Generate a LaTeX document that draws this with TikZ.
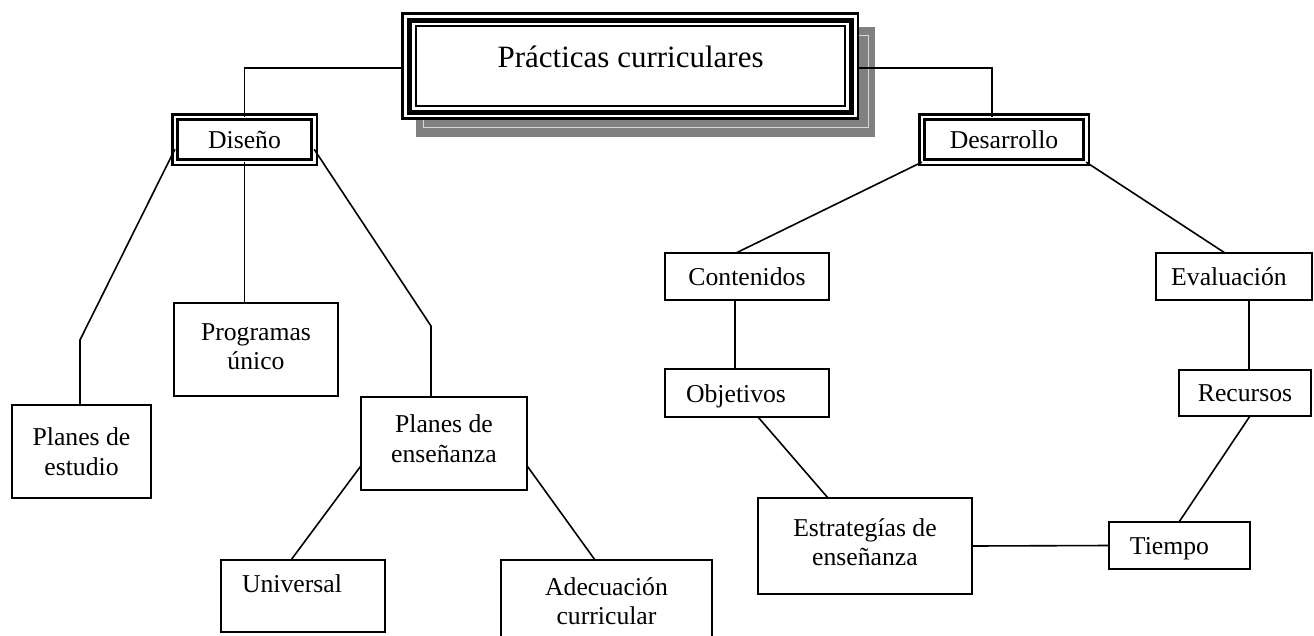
\documentclass[tikz,border=0pt]{standalone}
\usepackage{fontspec}
\setmainfont{Liberation Serif}
\definecolor{shadowgray}{HTML}{808080}
\definecolor{lightline}{HTML}{D8D8D8}
\begin{document}
\begin{tikzpicture}[x=1pt,y=-1pt,
  every node/.style={font=\fontsize{25.7}{29.5}\selectfont, inner sep=0pt, outer sep=0pt, align=center},
  tbox/.style={draw, line width=2, fill=white},
  dbox/.style={draw, line width=2.5, double, double distance=2.7},
  conn/.style={line width=1.6}]
\useasboundingbox (0,0) rectangle (1314,635);
\clip (0,0) rectangle (1314,635);
% title with shadow
\fill[shadowgray] (416,27) rectangle (875,137);
\draw[line width=1, lightline] (423,35) rectangle (868,127);
\node[draw, line width=2.6, fill=white, minimum width=455.6, minimum height=105.1] (titleout) at (630,66.15) {};
\node[draw, line width=5.5, minimum width=442, minimum height=92] (titlemid) at (630.5,66.5) {};
\node[draw, line width=2.3, minimum width=428.7, minimum height=80,
  label={[yshift=9pt]center:{\fontsize{31}{36}\selectfont Prácticas curriculares}}] (title) at (630.6,66.2) {};
% second level
\node[dbox, minimum width=139.3, minimum height=45.3] (dis) at (244.5,139.5) {Diseño};
\node[dbox, minimum width=164.3, minimum height=45.3] (des) at (1004,139.5) {Desarrollo};
% left branch
\node[tbox, minimum width=139, minimum height=93] (pe) at (81.5,451.5) {Planes de\\estudio};
\node[tbox, minimum width=164, minimum height=93,
  label={[yshift=3pt]center:{Programas\\único}}] (prog) at (256,349.5) {};
\node[tbox, minimum width=166, minimum height=93,
  label={[yshift=5pt]center:{Planes de\\enseñanza}}] (pen) at (444,443.5) {};
\node[tbox, minimum width=164, minimum height=72,
  label={[xshift=-11pt,yshift=12pt]center:Universal}] (uni) at (303,596) {};
\node[tbox, minimum width=211, minimum height=82] (ade) at (606.5,601) {Adecuación\\curricular};
% right branch
\node[tbox, minimum width=164, minimum height=47] (con) at (747,276.5) {Contenidos};
\node[tbox, minimum width=156, minimum height=47,
  label={[xshift=-5pt]center:Evaluación}] (eva) at (1234,276.5) {};
\node[tbox, minimum width=164, minimum height=48,
  label={[xshift=-11pt,yshift=-3pt]center:Objetivos}] (obj) at (747,393) {};
\node[tbox, minimum width=132, minimum height=46] (rec) at (1245,393) {Recursos};
\node[tbox, minimum width=214, minimum height=96,
  label={[yshift=4pt]center:{Estrategías de\\enseñanza}}] (est) at (865,546) {};
\node[tbox, minimum width=141, minimum height=47,
  label={[xshift=-10pt,yshift=-3pt]center:Tiempo}] (tie) at (1179.5,545.5) {};
% bend points
\coordinate (k1) at (80,340);
\coordinate (k2) at (431,326);
% connectors
\draw[conn] (titleout.west |- 0,68) -| (dis.north);
\draw[conn] (titleout.east |- 0,68) -| ([xshift=-12pt]des.north);
\draw[conn] (dis.188) -- (k1) -- (k1 |- pe.north);
\draw[conn] (dis.south) -- (dis.south |- prog.north);
\draw[conn] (dis.-8) -- (k2) -- (k2 |- pen.north);
\draw[conn] (pen.195) -- (uni.north -| 291,0);
\draw[conn] (pen.-15) -- (ade.north -| 595,0);
\draw[conn] (des.south west) -- (con.north -| 736,0);
\draw[conn] (des.south east) -- (eva.north -| 1225,0);
\draw[conn] (con.south -| 735,0) -- (obj.north -| 735,0);
\draw[conn] (obj.south -| 758,0) -- (est.north -| 828,0);
\draw[conn] (eva.south -| 1249,0) -- (rec.north -| 1249,0);
\draw[conn] (rec.south -| 1250,0) -- (tie.north -| 1179,0);
\draw[conn] (est.east) -- (tie.west);
\end{tikzpicture}
\end{document}
